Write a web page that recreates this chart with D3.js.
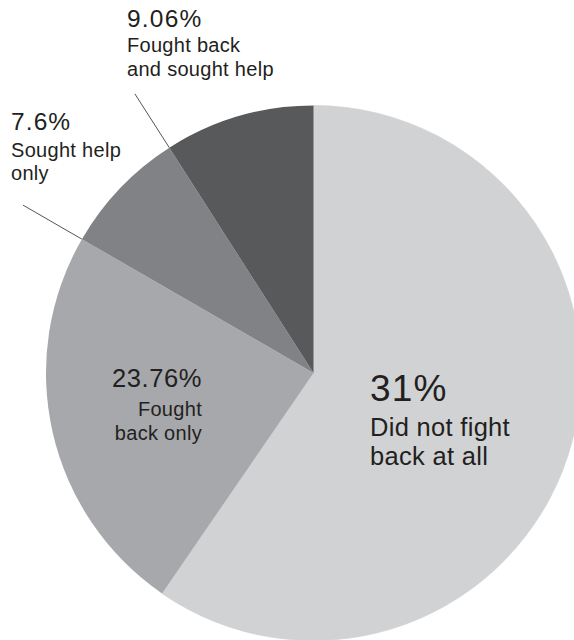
<!DOCTYPE html>
<html>
<head>
<meta charset="utf-8">
<script src="https://cdn.jsdelivr.net/npm/d3@7"></script>
<style>
  html, body { margin: 0; padding: 0; background: #fff; }
  svg { display: block; overflow: hidden; }
  text { font-family: "Liberation Sans", Arial, sans-serif; fill: #231f20; }
</style>
</head>
<body>
<svg id="chart" width="574" height="640"></svg>
<script>
// Slices in clockwise order from 12 o'clock; shares of 100 respondents.
// The light slice is made of two parts of the same shade: the labelled
// "Did not fight back at all" share and the unlabelled rest of that wedge.
const categories = ["Did not fight back at all", "Unlabelled", "Fought back only", "Sought help only", "Fought back and sought help"];
const values = [31, 28.58, 23.76, 7.6, 9.06];
const valueLabels = ["31%", "", "23.76%", "7.6%", "9.06%"];
const descLines = [["Did not fight", "back at all"], [], ["Fought", "back only"], ["Sought help", "only"], ["Fought back", "and sought help"]];

const fills = ["#d1d2d4", "#d1d2d4", "#a7a8ab", "#808285", "#58595b"];

const svg = d3.select("#chart");
const cx = 313.5, cy = 373, r = 267.5;

const pie = d3.pie().sort(null).value(d => d);
const arcs = pie(values);
const arc = d3.arc().innerRadius(0).outerRadius(r);

const g = svg.append("g").attr("transform", `translate(${cx},${cy})`);

g.selectAll("path.slice")
  .data(arcs)
  .join("path")
  .attr("class", "slice")
  .attr("d", arc)
  .attr("fill", (d, i) => fills[i])
  .attr("stroke", (d, i) => i < 2 ? fills[i] : "none")
  .attr("stroke-width", (d, i) => i < 2 ? 0.8 : 0);

// Leader lines: radial extensions of the wedge's starting edge beyond the rim
const leaders = [
  { idx: 3, ext: 68 },
  { idx: 4, ext: 64 }
];
leaders.forEach(l => {
  const a = arcs[l.idx].startAngle;
  const p = rr => [Math.sin(a) * rr, -Math.cos(a) * rr];
  const [x1, y1] = p(r);
  const [x2, y2] = p(r + l.ext);
  g.append("line")
    .attr("x1", x1).attr("y1", y1)
    .attr("x2", x2).attr("y2", y2)
    .attr("stroke", "#555")
    .attr("stroke-width", 1);
});

// Label blocks: value line followed by description lines
const labelLayout = [
  { idx: 0, x: 370, y: 401, anchor: "start", valueSize: 37, valueSpacing: 1.2, textSize: 25.5, gap: [35, 29] },
  { idx: 2, x: 202, y: 386.5, anchor: "end", valueSize: 25.5, valueSpacing: 0.6, textSize: 20, gap: [29.5, 24] },
  { idx: 3, x: 11, y: 130, anchor: "start", valueSize: 24.5, valueSpacing: 1.1, textSize: 20, gap: [26.5, 23.5] },
  { idx: 4, x: 127, y: 26.5, anchor: "start", valueSize: 24.5, valueSpacing: 1.2, textSize: 20, gap: [25.5, 24] }
];

labelLayout.forEach(L => {
  const block = svg.append("g").attr("text-anchor", L.anchor);
  block.append("text")
    .attr("x", L.x).attr("y", L.y)
    .attr("font-size", L.valueSize)
    .attr("letter-spacing", L.valueSpacing)
    .text(valueLabels[L.idx]);
  let y = L.y;
  descLines[L.idx].forEach((line, k) => {
    y += L.gap[k];
    block.append("text")
      .attr("x", L.x).attr("y", y)
      .attr("font-size", L.textSize)
      .attr("letter-spacing", 0.3)
      .text(line);
  });
});
</script>
</body>
</html>
